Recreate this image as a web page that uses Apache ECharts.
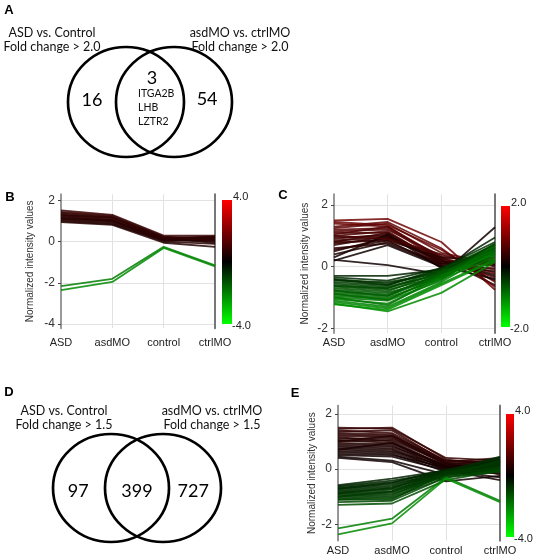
<!DOCTYPE html>
<html><head><meta charset="utf-8">
<script src="https://cdn.jsdelivr.net/npm/echarts@6/dist/echarts.min.js"></script>
<style>html,body{margin:0;padding:0;background:#fff}#c{width:536px;height:557px}</style>
</head><body><div id="c"></div>
<script>
// ---------- data ----------
const categories = ['ASD', 'asdMO', 'control', 'ctrlMO'];
const yTicksB = [-4, -2, 0, 2];
const yTicksC = [-2, 0, 2];
const yTicksE = [-2, 0, 2];
const colorScaleB = ['4.0', '-4.0'];
const colorScaleC = ['2.0', '-2.0'];
const colorScaleE = ['4.0', '-4.0'];

const vennATitles = ['ASD vs. Control\nFold change > 2.0', 'asdMO vs. ctrlMO\nFold change > 2.0'];
const vennACounts = [16, 3, 54];
const vennAGenes = ['ITGA2B', 'LHB', 'LZTR2'];
const vennDTitles = ['ASD vs. Control\nFold change > 1.5', 'asdMO vs. ctrlMO\nFold change > 1.5'];
const vennDCounts = [97, 399, 727];

// each row: [ASD, asdMO, control, ctrlMO]
const linesB = [
  [1.52, 1.30, 0.30, 0.30], [1.45, 1.25, 0.25, 0.10], [1.40, 1.20, 0.20, 0.25],
  [1.35, 1.15, 0.15, 0.00], [1.30, 1.10, 0.20, 0.20], [1.25, 1.05, 0.10, 0.15],
  [1.20, 1.00, 0.15, -0.05], [1.15, 1.05, 0.05, 0.10], [1.10, 0.95, 0.10, 0.25],
  [1.05, 0.90, 0.00, -0.10], [1.00, 0.85, 0.05, 0.05], [0.95, 0.82, -0.05, -0.25],
  [1.12, 1.00, 0.12, 0.18], [1.28, 1.18, 0.22, 0.08],
  [-2.15, -1.80, -0.25, -1.15], [-2.35, -1.95, -0.30, -1.20]
];
const linesC = [
  [1.50, 1.55, 0.80, -0.75], [1.45, 1.35, 0.55, -0.50], [1.40, 1.30, 0.30, -0.20],
  [1.25, 1.40, 0.45, 0.10], [1.20, 1.25, 0.20, -0.35], [1.15, 1.20, 0.35, 0.05],
  [1.10, 1.10, 0.15, 0.25], [1.05, 1.30, 0.25, -0.10], [1.00, 1.15, 0.10, 0.20],
  [0.95, 1.00, 0.30, -0.45], [0.90, 1.05, 0.05, 0.15], [0.85, 0.95, 0.20, -0.25],
  [0.80, 1.10, 0.10, 0.30], [0.80, 0.85, 0.00, -0.05], [0.75, 0.90, 0.25, -0.60],
  [0.70, 1.00, 0.15, 0.10], [0.60, 0.75, 0.05, -0.15], [0.50, 0.95, 0.20, -0.30],
  [0.40, 0.80, 0.10, 0.05], [0.30, 1.05, -0.05, 0.20], [0.20, 0.70, 0.00, -0.40],
  [0.22, 0.05, -0.25, 1.28], [1.30, 1.45, 0.60, -0.65], [1.00, 0.90, 0.40, 0.00],
  [0.55, 0.85, 0.30, 0.15],
  [-0.30, -0.30, -0.10, 0.95], [-0.35, -0.45, -0.05, 0.55], [-0.40, -0.55, -0.15, 0.70],
  [-0.45, -0.50, -0.20, 0.45], [-0.50, -0.60, -0.10, 0.60], [-0.55, -0.65, -0.25, 0.75],
  [-0.60, -0.70, -0.20, 0.50], [-0.65, -0.75, -0.30, 0.65], [-0.70, -0.80, -0.15, 0.40],
  [-0.75, -0.85, -0.35, 0.70], [-0.80, -0.90, -0.25, 0.55], [-0.85, -0.95, -0.30, 0.35],
  [-0.90, -1.00, -0.40, 0.60], [-0.95, -1.05, -0.35, 0.45], [-1.00, -1.10, -0.45, 0.70],
  [-1.05, -1.20, -0.40, 0.30], [-1.10, -1.30, -0.50, 0.50], [-1.15, -1.35, -0.55, 0.25],
  [-1.20, -1.45, -0.85, 0.15], [-1.22, -1.40, -0.60, 0.20], [-0.42, -0.60, -0.05, 0.80],
  [-0.62, -0.70, -0.10, 0.72], [-0.78, -0.95, -0.20, 0.62], [-0.88, -1.08, -0.28, 0.50],
  [-1.00, -1.25, -0.30, 0.40]
];
const linesE = [
  [1.50, 1.45, 0.40, 0.30], [1.45, 1.50, 0.35, 0.10], [1.40, 1.30, 0.30, 0.25],
  [1.35, 1.40, 0.25, 0.40], [1.30, 1.25, 0.20, 0.00], [1.25, 1.20, 0.30, 0.20],
  [1.20, 1.15, 0.15, 0.35], [1.15, 1.00, 0.10, -0.10], [1.10, 1.10, 0.25, 0.15],
  [1.05, 0.95, 0.05, 0.30], [1.00, 1.05, 0.20, -0.20], [0.95, 0.90, 0.10, 0.10],
  [0.90, 0.85, 0.00, 0.25], [0.85, 0.80, 0.15, -0.05], [0.80, 0.75, 0.05, 0.20],
  [0.75, 0.70, -0.05, -0.30], [0.70, 0.65, 0.10, 0.05], [0.65, 0.60, 0.00, 0.15],
  [0.60, 0.55, -0.10, -0.15], [0.55, 0.50, 0.05, 0.10], [0.50, 0.45, -0.05, -0.40],
  [0.45, 0.30, -0.20, 0.00], [0.40, 0.25, -0.45, -0.25], [1.00, 1.20, 0.20, 0.10],
  [0.70, 0.95, 0.10, 0.00],
  [-0.58, -0.35, -0.05, 0.30], [-0.62, -0.42, -0.10, 0.45], [-0.66, -0.48, -0.02, 0.20],
  [-0.70, -0.55, -0.12, 0.35], [-0.74, -0.60, -0.08, 0.10], [-0.78, -0.65, -0.15, 0.25],
  [-0.82, -0.70, -0.05, 0.40], [-0.86, -0.75, -0.20, 0.00], [-0.90, -0.80, -0.10, 0.15],
  [-0.94, -0.85, -0.18, 0.30], [-0.98, -0.90, -0.25, -0.05], [-1.02, -0.95, -0.12, 0.20],
  [-1.06, -1.00, -0.22, 0.10], [-1.10, -1.05, -0.30, -0.10], [-1.12, -1.10, -0.15, 0.05],
  [-1.20, -1.15, -0.30, 0.00], [-1.30, -1.25, -0.40, -0.05], [-0.72, -0.50, -0.05, 0.25],
  [-0.88, -0.68, -0.15, 0.12], [-1.00, -0.82, -0.20, 0.28],
  [-2.15, -1.80, -0.30, -1.15], [-2.37, -1.97, -0.35, -1.20]
];

// ---------- helpers ----------
function geneColor(v, s) {
  const t = Math.max(-1, Math.min(1, v / s));
  return t >= 0 ? 'rgb(' + Math.round(150 * t) + ',' + Math.round(8 * t) + ',' + Math.round(8 * t) + ')'
                : 'rgb(0,' + Math.round(-235 * t) + ',0)';
}
const plotFont = 'Liberation Sans';
const vennFont = 'Lato';

function lineSeries(rows, gi, yi, scale) {
  return rows.map(r => ({
    type: 'line', xAxisIndex: gi, yAxisIndex: yi, data: r,
    symbol: 'none', silent: true, animation: false,
    lineStyle: { color: geneColor(r[0], scale), width: 1.8, opacity: 0.85 }
  }));
}
function xAxisFor(gi, margin) {
  return { gridIndex: gi, type: 'category', data: categories, boundaryGap: false,
    axisLine: { show: false }, axisTick: { show: false },
    axisLabel: { interval: 0, fontSize: 11, color: '#222', margin: margin, fontFamily: plotFont },
    splitLine: { show: true, lineStyle: { color: '#e2e2e2' } } };
}
function yAxesFor(gi, min, max, ticks, nameGap, leftColor, leftWidth) {
  return [
    { gridIndex: gi, type: 'value', min: min, max: max, position: 'left',
      name: 'Normalized intensity values', nameLocation: 'middle', nameGap: nameGap,
      nameTextStyle: { fontSize: 10, color: '#333', fontFamily: plotFont },
      axisLine: { show: true, lineStyle: { color: leftColor, width: leftWidth } },
      axisTick: { show: true, length: 3, customValues: ticks, lineStyle: { color: '#444' } },
      axisLabel: { customValues: ticks, fontSize: 12, color: '#333', margin: 6, fontFamily: plotFont },
      splitLine: { show: true, lineStyle: { color: '#e2e2e2' } } },
    { gridIndex: gi, type: 'value', min: min, max: max, position: 'right',
      axisLine: { show: true, lineStyle: { color: '#777', width: 2 } },
      axisTick: { show: false }, axisLabel: { show: false }, splitLine: { show: false } }
  ];
}
function colorBar(x, y, w, h, labels) {
  return [
    { type: 'rect', shape: { x: x, y: y, width: w, height: h },
      style: { fill: new echarts.graphic.LinearGradient(0, 0, 0, 1, [
        { offset: 0, color: '#ff0000' }, { offset: 0.5, color: '#000000' }, { offset: 1, color: '#00ff00' }]) } },
    { type: 'text', x: x + w + 1, y: y - 3, style: { text: labels[0], font: '11px ' + plotFont, fill: '#222', align: 'left', verticalAlign: 'middle' } },
    { type: 'text', x: x + w, y: y + h + 2, style: { text: labels[1], font: '11px ' + plotFont, fill: '#222', align: 'left', verticalAlign: 'middle' } }
  ];
}
function letter(t, x, y) {
  return { type: 'text', x: x, y: y, style: { text: t, font: 'bold 13px Liberation Sans', fill: '#000', align: 'center', verticalAlign: 'middle' } };
}
function vennTitle(t, x, y) {
  return { type: 'text', x: x, y: y, style: { text: t, font: '12.5px ' + vennFont, fill: '#111', align: 'center', verticalAlign: 'top', lineHeight: 14 } };
}
function vennSeries(xi, yi, size, counts, pos, genes, genePos) {
  const s = [
    { type: 'scatter', xAxisIndex: xi, yAxisIndex: yi, silent: true, animation: false, clip: false,
      data: [[0, 0], [1, 0]], symbol: 'circle', symbolSize: size,
      itemStyle: { color: 'rgba(0,0,0,0)', borderColor: '#000', borderWidth: 2.6, opacity: 1 } },
    { type: 'scatter', xAxisIndex: xi, yAxisIndex: yi, silent: true, animation: false, clip: false,
      symbolSize: 1, itemStyle: { color: 'rgba(0,0,0,0)', opacity: 1 },
      data: counts.map((c, i) => ({ value: pos[i], label: { show: true, position: 'inside', formatter: String(c),
        fontSize: 18, color: '#000', fontFamily: vennFont } })) }
  ];
  if (genes) {
    s.push({ type: 'scatter', xAxisIndex: xi, yAxisIndex: yi, silent: true, animation: false, clip: false,
      symbolSize: 1, itemStyle: { color: 'rgba(0,0,0,0)', opacity: 1 },
      data: [{ value: genePos, label: { show: true, position: 'inside', align: 'left', verticalAlign: 'middle',
        formatter: genes.join('\n'), fontSize: 10.5, lineHeight: 14, color: '#111', fontFamily: vennFont } }] });
  }
  return s;
}

// ---------- option ----------
const chart = echarts.init(document.getElementById('c'), null, { renderer: 'canvas' });
const yB = yAxesFor(0, -4.2, 2.3, yTicksB, 26, '#999', 2);
const yC = yAxesFor(1, -2.15, 2.35, yTicksC, 24, '#999', 2);
const yE = yAxesFor(2, -2.6, 2.3, yTicksE, 20, '#777', 1.5);

const option = {
  backgroundColor: '#fff',
  animation: false,
  grid: [
    { left: 61, top: 194.3, width: 154, height: 134 },
    { left: 334, top: 194.3, width: 161, height: 138.6 },
    { left: 338, top: 405.5, width: 162, height: 135.3 },
    { left: 30, top: 42, width: 240, height: 120 },
    { left: 7, top: 428, width: 260, height: 120 }
  ],
  xAxis: [
    xAxisFor(0, 9), xAxisFor(1, 5), xAxisFor(2, 5),
    { gridIndex: 3, type: 'value', min: -2, max: 3, show: false },
    { gridIndex: 4, type: 'value', min: -2, max: 3, show: false }
  ],
  yAxis: [
    yB[0], yB[1], yC[0], yC[1], yE[0], yE[1],
    { gridIndex: 3, type: 'value', min: -1, max: 1, show: false },
    { gridIndex: 4, type: 'value', min: -1, max: 1, show: false }
  ],
  series: [].concat(
    lineSeries(linesB, 0, 0, 4),
    lineSeries(linesC, 1, 2, 2),
    lineSeries(linesE, 2, 4, 4),
    vennSeries(3, 6, [116, 110], vennACounts, [[-0.71, 0.03], [0.54, 0.40], [1.69, 0.05]], vennAGenes, [0.25, -0.10]),
    vennSeries(4, 7, [116, 108], vennDCounts, [[-0.63, -0.05], [0.50, -0.05], [1.58, -0.05]], null, null)
  ),
  graphic: [].concat(
    [letter('A', 9, 10), letter('B', 10, 197), letter('C', 283, 195), letter('D', 9, 392), letter('E', 295, 393)],
    [vennTitle(vennATitles[0], 52, 26), vennTitle(vennATitles[1], 240, 26),
     vennTitle(vennDTitles[0], 64, 404), vennTitle(vennDTitles[1], 212, 404)],
    colorBar(222, 200, 10, 124, colorScaleB),
    colorBar(501, 206, 9, 121, colorScaleC),
    colorBar(506, 414, 8, 123, colorScaleE)
  )
};
chart.setOption(option);
</script>
</body></html>
